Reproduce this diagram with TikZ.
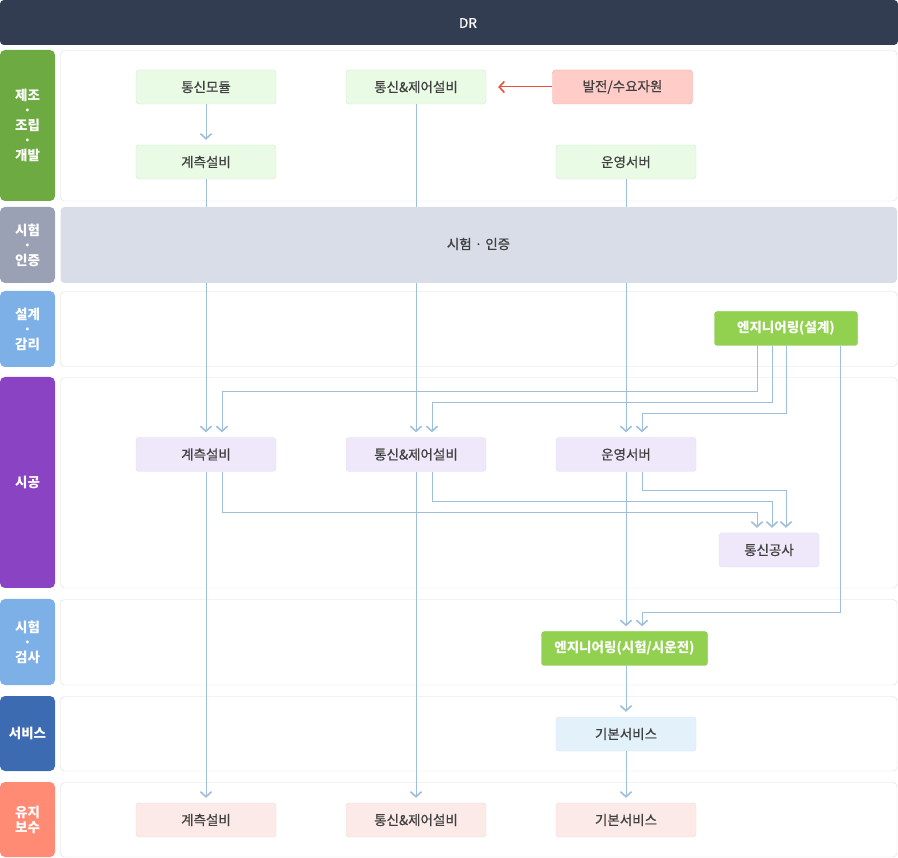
\documentclass[tikz,border=0pt]{standalone}
\usepackage{fontspec}
\setmainfont{Noto Sans CJK KR}
\newfontface\medfont{Noto Sans CJK KR}[FakeBold=0.6]
\usetikzlibrary{arrows.meta}

\definecolor{barnavy}{HTML}{333D52}
\definecolor{lanegreen}{HTML}{6DAA42}
\definecolor{lanegray}{HTML}{9BA1B5}
\definecolor{lanesky}{HTML}{7EB0E8}
\definecolor{lanepurple}{HTML}{8A43C3}
\definecolor{laneblue}{HTML}{3C6BB2}
\definecolor{lanesalmon}{HTML}{FF8B75}
\definecolor{panelline}{HTML}{DCDCDC}
\definecolor{testgray}{HTML}{D9DDE8}
\definecolor{boxtext}{HTML}{404040}
\definecolor{linkblue}{HTML}{9EBEDC}
\definecolor{arrowred}{HTML}{E8503A}
\definecolor{mfgfill}{HTML}{EAFBE5}
\definecolor{mfgline}{HTML}{D9E7D5}
\definecolor{srcfill}{HTML}{FFCCC8}
\definecolor{srcline}{HTML}{F6A89F}
\definecolor{confill}{HTML}{EFE8FB}
\definecolor{conline}{HTML}{E2DDEE}
\definecolor{engfill}{HTML}{92D14F}
\definecolor{engline}{HTML}{86C548}
\definecolor{svcfill}{HTML}{E3F1FB}
\definecolor{svcline}{HTML}{D9E2EA}
\definecolor{mntfill}{HTML}{FBEAE7}
\definecolor{mntline}{HTML}{ECDDDA}

\tikzset{
  box/.style={rectangle, rounded corners=3pt, minimum width=140pt, minimum height=34pt,
    inner sep=0pt, text=boxtext, font=\medfont\fontsize{13.5}{15}\selectfont},
  mfgbox/.style={box, fill=mfgfill, draw=mfgline},
  srcbox/.style={box, fill=srcfill, draw=srcline},
  conbox/.style={box, fill=confill, draw=conline},
  engbox/.style={box, fill=engfill, draw=engline, text=white, font=\bfseries\fontsize{13.5}{15}\selectfont},
  svcbox/.style={box, fill=svcfill, draw=svcline},
  mntbox/.style={box, fill=mntfill, draw=mntline},
  lane/.style={rectangle, rounded corners=5pt, minimum width=55pt, inner sep=0pt,
    text=white, align=center, font=\bfseries\fontsize{13.5}{15}\selectfont},
  panel/.style={draw=panelline, fill=white, rounded corners=4pt},
  link/.style={draw=linkblue, line width=1pt, shorten >=5pt,
    -{Straight Barb[length=5pt,width=11pt,line width=1.6pt]}},
}

\begin{document}
\begin{tikzpicture}[x=1pt,y=-1pt]
  \useasboundingbox (0,0) rectangle (898,858);

  % top bar
  \fill[barnavy, rounded corners=4pt] (0,0) rectangle (898,45);
  \node[text=white, font=\medfont\fontsize{13.5}{15}\selectfont] (dr) at (468,23) {DR};

  % lane labels (left)
  \node[lane, fill=lanegreen, minimum height=151pt] (lane1) at (27.5,125.5) {제조\\·\\조립\\·\\개발};
  \node[lane, fill=lanegray, minimum height=76pt] (lane2) at (27.5,245) {시험\\·\\인증};
  \node[lane, fill=lanesky, minimum height=76pt] (lane3) at (27.5,329) {설계\\·\\감리};
  \node[lane, fill=lanepurple, minimum height=211pt] (lane4) at (27.5,482.5) {시공};
  \node[lane, fill=lanesky, minimum height=86pt] (lane5) at (27.5,642) {시험\\·\\검사};
  \node[lane, fill=laneblue, minimum height=75pt] (lane6) at (27.5,733.5) {서비스};
  \node[lane, fill=lanesalmon, minimum height=75pt] (lane7) at (27.5,819.5) {유지\\보수};

  % panels (right)
  \draw[panel] (60.5,50.5) rectangle (897,201);
  \draw[panel] (60.5,291.5) rectangle (897,366.5);
  \draw[panel] (60.5,377.5) rectangle (897,588);
  \draw[panel] (60.5,599.5) rectangle (897,685);
  \draw[panel] (60.5,696.5) rectangle (897,771);
  \draw[panel] (60.5,782.5) rectangle (897,857);

  % 제조/조립/개발
  \node[mfgbox] (mod1) at (206,87) {통신모듈};
  \node[mfgbox] (ctl1) at (416,87) {통신\&제어설비};
  \node[srcbox] (src1) at (622.5,87) {발전/수요자원};
  \node[mfgbox] (msr1) at (206,162) {계측설비};
  \node[mfgbox] (srv1) at (626,162) {운영서버};

  % 설계/감리
  \node[engbox, minimum width=143pt] (eng1) at (786,328.5) {엔지니어링(설계)};

  % 시공
  \node[conbox] (msr4) at (206,454.5) {계측설비};
  \node[conbox] (ctl4) at (416,454.5) {통신\&제어설비};
  \node[conbox] (srv4) at (626,454.5) {운영서버};
  \node[conbox, minimum width=100pt] (work4) at (769,550) {통신공사};

  % 시험/검사, 서비스, 유지보수
  \node[engbox, minimum width=166pt] (eng5) at (624.5,648.5) {엔지니어링(시험/시운전)};
  \node[svcbox] (svc6) at (626,734) {기본서비스};
  \node[mntbox] (msr7) at (206,820) {계측설비};
  \node[mntbox] (ctl7) at (416,820) {통신\&제어설비};
  \node[mntbox] (svc7) at (626,820) {기본서비스};

  % main flows
  \draw[link, draw=arrowred, shorten >=12pt] (src1) -- (ctl1);
  \draw[link] (mod1) -- (msr1);
  \draw[link] (msr1) -- (msr4);
  \draw[link] (msr4) -- (msr7);
  \draw[link] (ctl1) -- (ctl4);
  \draw[link] (ctl4) -- (ctl7);
  \draw[link] (srv1) -- (srv4);
  \draw[link] (srv4.south) -- (srv4.south |- eng5.north);
  \draw[link] (svc6 |- eng5.south) -- (svc6);
  \draw[link] (svc6) -- (svc7);

  % design engineering feeds
  \draw[link] ([xshift=-29pt]eng1.south) -- ++(0,46) -| ([xshift=16pt]msr4.north);
  \draw[link] ([xshift=-14pt]eng1.south) -- ++(0,57) -| ([xshift=16pt]ctl4.north);
  \draw[link] (eng1.south) -- ++(0,68) -| ([xshift=16pt]srv4.north);
  \draw[link] ([xshift=54pt]eng1.south) -- ++(0,267) -| ([xshift=16pt]srv4.south |- eng5.north);

  % feeds to 통신공사
  \draw[link] ([xshift=16pt]msr4.south) -- ++(0,40.5) -| ([xshift=-12pt]work4.north);
  \draw[link] ([xshift=16pt]ctl4.south) -- ++(0,29.5) -| ([xshift=3pt]work4.north);
  \draw[link] ([xshift=16pt]srv4.south) -- ++(0,18.5) -| ([xshift=17pt]work4.north);

  % 시험/인증 band (covers the passing lines)
  \fill[testgray, rounded corners=4pt] (60.5,207) rectangle (897,283);
  \node[text=boxtext, font=\medfont\fontsize{13.5}{15}\selectfont] (cert) at (478.5,244) {시험 · 인증};
\end{tikzpicture}
\end{document}
